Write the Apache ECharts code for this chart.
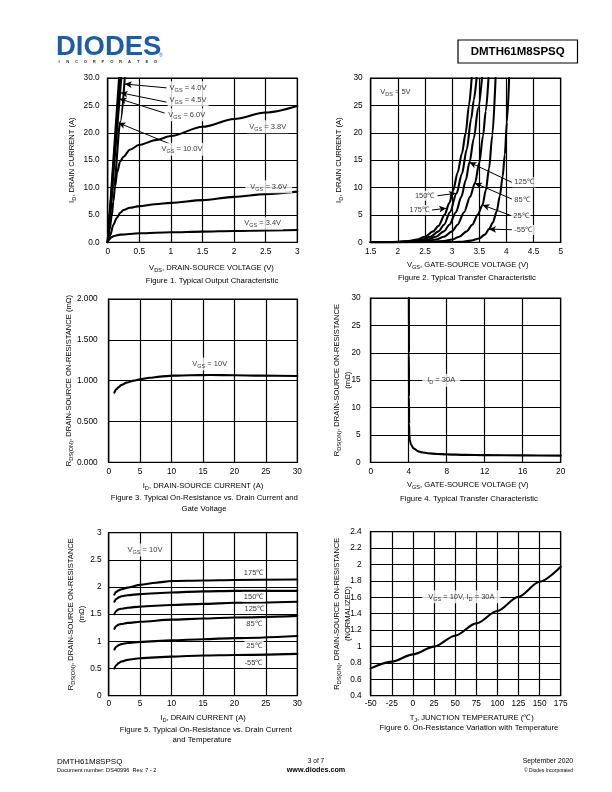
<!DOCTYPE html>
<html><head><meta charset="utf-8">
<script src="https://cdn.jsdelivr.net/npm/echarts@6.0.0/dist/echarts.min.js"></script>
<style>html,body{margin:0;padding:0;background:#fff}#c{width:612px;height:792px}</style>
</head><body><div id="c"></div>
<script>
// ===== Figure 1: Typical Output Characteristic (ID vs VDS) =====
const fig1Vgs34 = [[0,0],[0.03,0.6],[0.06,0.95],[0.1,1.15],[0.2,1.4],[0.5,1.64],[1,1.83],[1.5,1.95],[2,2.07],[2.5,2.17],[3,2.25]];
const fig1Vgs36 = [[0,0],[0.04,1.3],[0.09,3.2],[0.14,4.4],[0.2,5.4],[0.25,5.9],[0.35,6.3],[0.5,6.6],[0.75,6.95],[1,7.2],[1.5,7.7],[2,8.3],[2.5,8.8],[3,9.25]];
const fig1Vgs38 = [[0,0],[0.03,2.3],[0.063,4.7],[0.09,7.5],[0.116,10.2],[0.15,12.8],[0.195,14.7],[0.25,15.6],[0.35,16.9],[0.5,17.8],[0.775,18.7],[1,19.4],[1.5,21.1],[2,22.5],[2.5,23.7],[3,24.9]];
const fig1Vgs40 = [[0,0],[0.1,10.5],[0.2,22],[0.27,30]];
const fig1Vgs45 = [[0,0],[0.215,30]];
const fig1Vgs60 = [[0,0],[0.195,30]];
const fig1Vgs100 = [[0,0],[0.18,30]];
const fig1Notes = [
  {t:'{n|V}{s|GS}{n| = 4.0V}', at:[0.94,28.2], from:[0.93,28.2], to:[0.27,28.9]},
  {t:'{n|V}{s|GS}{n| = 4.5V}', at:[0.94,26.0], from:[0.93,25.6], to:[0.205,27.3]},
  {t:'{n|V}{s|GS}{n| = 6.0V}', at:[0.92,23.3], from:[0.9,23.6], to:[0.185,26.2]},
  {t:'{n|V}{s|GS}{n| = 10.0V}', at:[0.81,17.0], from:[1.02,17.8], to:[0.17,21.8]},
  {t:'{n|V}{s|GS}{n| = 3.8V}', at:[2.2,21.1]},
  {t:'{n|V}{s|GS}{n| = 3.6V}', at:[2.17,10.15], pad:[1,5]},
  {t:'{n|V}{s|GS}{n| = 3.4V}', at:[2.12,3.47]}
];

// ===== Figure 2: Typical Transfer Characteristic (ID vs VGS) =====
const fig2T175 = [[1.5,0],[1.8,0.03],[2.0,0.1],[2.2,0.25],[2.35,0.5],[2.5,1.0],[2.65,2.0],[2.75,3.0],[2.86,5.0],[2.95,7.2],[3.02,9.5],[3.1,12.7],[3.18,16.2],[3.25,20],[3.31,25],[3.36,30]];
const fig2T150 = [[1.5,0],[1.9,0.03],[2.1,0.1],[2.3,0.25],[2.45,0.5],[2.6,1.0],[2.75,2.0],[2.85,3.2],[2.96,5.5],[3.08,8.9],[3.18,12.5],[3.27,17],[3.35,22.5],[3.4,26],[3.45,30]];
const fig2T125 = [[1.5,0],[2.0,0.03],[2.2,0.1],[2.4,0.25],[2.55,0.5],[2.7,1.0],[2.85,2.0],[2.95,3.2],[3.07,5.5],[3.17,8.3],[3.25,11.3],[3.32,14.6],[3.4,19],[3.48,24.5],[3.55,30]];
const fig2T85 = [[1.5,0],[2.1,0.03],[2.35,0.1],[2.55,0.25],[2.7,0.5],[2.85,1.0],[3.0,2.0],[3.1,3.2],[3.22,5.5],[3.33,8.3],[3.42,10.8],[3.5,14.5],[3.57,19.5],[3.62,24],[3.67,30]];
const fig2T25 = [[1.5,0],[2.4,0.03],[2.65,0.1],[2.85,0.25],[3.0,0.5],[3.13,1.0],[3.27,2.0],[3.37,3.2],[3.47,5.0],[3.56,6.8],[3.62,9.5],[3.68,13.5],[3.74,19.5],[3.8,30]];
const fig2Tm55 = [[1.5,0],[2.9,0.03],[3.15,0.1],[3.35,0.3],[3.5,0.7],[3.6,1.4],[3.68,2.4],[3.75,3.6],[3.82,5.6],[3.88,8.5],[3.93,12],[3.97,16],[4.01,22],[4.05,30]];
const fig2Notes = [
  {t:'{n|V}{s|DS}{n| = 5V}', at:[1.63,27.5], bg:'none'},
  {t:'{n|125℃}', at:[4.1,10.95], from:[4.1,10.95], to:[3.32,14.6]},
  {t:'{n|85℃}', at:[4.1,7.7], from:[4.1,7.9], to:[3.42,10.8]},
  {t:'{n|25℃}', at:[4.08,4.86], from:[4.08,4.9], to:[3.56,6.8]},
  {t:'{n|-55℃}', at:[4.1,2.25], from:[4.1,2.3], to:[3.68,2.4]},
  {t:'{n|150℃}', at:[2.72,8.5], side:'left', from:[2.73,8.5], to:[3.07,8.95]},
  {t:'{n|175℃}', at:[2.62,5.9], side:'left', from:[2.63,5.9], to:[2.89,6.2]}
];

// ===== Figure 3: On-Resistance vs Drain Current =====
const fig3Rds = [[0.9,0.853],[1.2,0.895],[1.54,0.918],[2,0.945],[2.86,0.976],[4,1.0],[4.98,1.016],[6.5,1.035],[8.16,1.049],[10.3,1.061],[13,1.066],[16.1,1.069],[20,1.066],[24.1,1.061],[30,1.057]];
const fig3Notes = [{t:'{n|V}{s|GS}{n| = 10V}', at:[12.9,1.204]}];

// ===== Figure 4: On-Resistance vs Gate-Source Voltage =====
const fig4Rds = [[4.02,30],[4.025,20],[4.03,12],[4.04,7],[4.07,5],[4.12,4.0],[4.25,3.2],[4.5,2.55],[5,2.0],[5.5,1.8],[6,1.65],[7,1.52],[8,1.45],[10,1.36],[12,1.31],[16,1.26],[20,1.22]];
const fig4Notes = [{t:'{n|I}{s|D}{n| = 30A}', at:[5.37,15], pad:[1,5]}];

// ===== Figure 5: On-Resistance vs Drain Current and Temperature =====
const fig5T175 = [[0.9,1.86],[1.2,1.91],[1.6,1.94],[2,1.96],[3,1.99],[5,2.04],[7.5,2.08],[10,2.11],[15,2.12],[20,2.13],[30,2.14]];
const fig5T150 = [[0.9,1.73],[1.2,1.78],[1.6,1.81],[2,1.83],[3,1.85],[5,1.87],[10,1.9],[15,1.92],[20,1.93],[30,1.93]];
const fig5T125 = [[0.9,1.5],[1.2,1.56],[1.6,1.59],[2,1.6],[3,1.62],[5,1.64],[10,1.67],[15,1.69],[20,1.71],[30,1.73]];
const fig5T85 = [[0.9,1.23],[1.2,1.28],[1.6,1.31],[2,1.32],[3,1.34],[5,1.36],[10,1.4],[15,1.42],[20,1.44],[30,1.47]];
const fig5T25 = [[0.9,0.85],[1.2,0.9],[1.6,0.93],[2,0.95],[3,0.97],[5,0.99],[10,1.02],[15,1.04],[20,1.06],[30,1.1]];
const fig5Tm55 = [[0.9,0.5],[1.2,0.56],[1.6,0.6],[2,0.63],[3,0.66],[5,0.69],[10,0.72],[15,0.74],[20,0.75],[30,0.77]];
const fig5Notes = [
  {t:'{n|V}{s|GS}{n| = 10V}', at:[2.6,2.68]},
  {t:'{n|175℃}', at:[21.1,2.26]},
  {t:'{n|150℃}', at:[21.1,1.82]},
  {t:'{n|125℃}', at:[21.2,1.6]},
  {t:'{n|85℃}', at:[21.5,1.32]},
  {t:'{n|25℃}', at:[21.5,0.92]},
  {t:'{n|-55℃}', at:[21.2,0.6]}
];

// ===== Figure 6: On-Resistance vs Temperature =====
const fig6Tj = [-50,-25,0,25,50,75,100,125,150,175];
const fig6Rn = [0.733,0.815,0.904,0.998,1.132,1.282,1.433,1.607,1.79,1.973];
const fig6Notes = [{t:'{n|V}{s|GS}{n| = 10V, I}{s|D}{n| = 30A}', at:[10.4,1.607], pad:[1,6]}];

// ===== styling / layout =====
const FONT = '"Liberation Sans", Arial, Helvetica, sans-serif';
const RICH = {
  n:{fontFamily:FONT, fontSize:7.5, color:'#000'},
  s:{fontFamily:FONT, fontSize:5.5, color:'#000', padding:[5,0,0,0]}
};
const NRICH = {
  n:{fontFamily:FONT, fontSize:7.6, color:'#000', lineHeight:10},
  s:{fontFamily:FONT, fontSize:5.6, color:'#000', padding:[5,0,0,0]}
};
const grids = [
  {left:107.7, top:78, width:189.6, height:164.3},
  {left:370.7, top:78, width:190, height:164.3},
  {left:108.7, top:299, width:188.6, height:163.3},
  {left:370.7, top:298, width:190, height:164.3},
  {left:108.7, top:532.7, width:188.6, height:163},
  {left:370.7, top:531.7, width:190, height:164}
].map(g => Object.assign({show:true, borderColor:'#000', borderWidth:1.2, backgroundColor:'rgba(0,0,0,0)', containLabel:false, outerBoundsMode:'none'}, g));

function axis(gi, min, max, interval, fmt, name, gap, margin, pad) {
  return {
    gridIndex:gi, type:'value', min, max, interval,
    axisLine:{show:true, onZero:false, lineStyle:{color:'#000', width:1.2}},
    axisTick:{show:false},
    splitLine:{show:true, lineStyle:{color:'#000', width:1.2}},
    axisLabel:{color:'#000', fontSize:8.3, fontFamily:FONT, margin, showMinLabel:true, showMaxLabel:true, hideOverlap:false, formatter:fmt},
    name, nameLocation:'middle', nameGap:gap, nameMoveOverlap:false,
    nameTextStyle:{rich:NRICH, align:'center', padding:pad||0}
  };
}
const f1 = v => v.toFixed(1), f3 = v => v.toFixed(3), fg = v => String(+v.toFixed(2));
const xAxes = [
  axis(0, 0, 3, 0.5, fg, '{n|V}{s|DS}{n|, DRAIN-SOURCE VOLTAGE (V)}', 20, 5, [0,0,0,18]),
  axis(1, 1.5, 5, 0.5, fg, '{n|V}{s|GS}{n|, GATE-SOURCE VOLTAGE (V)}', 17, 5, [0,0,0,4]),
  axis(2, 0, 30, 5, fg, '{n|I}{s|D}{n|, DRAIN-SOURCE CURRENT (A)}', 18, 5),
  axis(3, 0, 20, 4, fg, '{n|V}{s|GS}{n|, GATE-SOURCE VOLTAGE (V)}', 17, 5, [0,0,0,4]),
  axis(4, 0, 30, 5, fg, '{n|I}{s|D}{n|, DRAIN CURRENT (A)}', 17, 4),
  axis(5, -50, 175, 25, fg, '{n|T}{s|J}{n|, JUNCTION TEMPERATURE (℃)}', 17, 4, [0,0,0,12])
];
const yAxes = [
  axis(0, 0, 30, 5, f1, '{n|I}{s|D}{n|, DRAIN CURRENT (A)}', 30, 8),
  axis(1, 0, 30, 5, fg, '{n|I}{s|D}{n|, DRAIN CURRENT (A)}', 26, 8),
  axis(2, 0, 2, 0.5, f3, '{n|R}{s|DS(ON)}{n|, DRAIN-SOURCE ON-RESISTANCE (mΩ)}', 34, 11),
  axis(3, 0, 30, 5, fg, '{n|R}{s|DS(ON)}{n|, DRAIN-SOURCE ON-RESISTANCE}\n{n|(mΩ)}', 18, 10),
  axis(4, 0, 3, 0.5, fg, '{n|R}{s|DS(ON)}{n|, DRAIN-SOURCE ON-RESISTANCE}\n{n|(mΩ)}', 22, 7),
  axis(5, 0.4, 2.4, 0.2, fg, '{n|R}{s|DS(ON)}{n|, DRAIN-SOURCE ON-RESISTANCE}\n{n|(NORMALIZED)}', 18, 9)
];

function curve(data, gi) {
  return {type:'line', data, xAxisIndex:gi, yAxisIndex:gi, symbol:'none', showSymbol:false,
    smooth:0.3, smoothMonotone:'x', clip:true, silent:true, z:3,
    lineStyle:{color:'#000', width:2.1, cap:'round', join:'round'}};
}
function notes(list, gi) {
  return {
    type:'scatter', xAxisIndex:gi, yAxisIndex:gi, symbolSize:1, silent:true, z:10,
    itemStyle:{color:'rgba(0,0,0,0)'},
    data:list.map(n => ({value:n.at, label:{show:true, position:n.side||'right', distance:0,
      formatter:n.t, rich:RICH, fontFamily:FONT, fontSize:7.5, color:'#000',
      backgroundColor:n.bg==='none'?'transparent':'#fff', padding:n.pad||[1,2]}})),
    markLine:{silent:true, symbol:['none','arrow'], symbolSize:[5,7], animation:false,
      label:{show:false}, emphasis:{disabled:true},
      lineStyle:{color:'#000', width:1, type:'solid'},
      data:list.filter(n => n.to).map(n => [{coord:n.from}, {coord:n.to}])}
  };
}

const series = [
  curve(fig1Vgs34,0), curve(fig1Vgs36,0), curve(fig1Vgs38,0), curve(fig1Vgs40,0),
  curve(fig1Vgs45,0), curve(fig1Vgs60,0), curve(fig1Vgs100,0), notes(fig1Notes,0),
  curve(fig2T175,1), curve(fig2T150,1), curve(fig2T125,1), curve(fig2T85,1), curve(fig2T25,1), curve(fig2Tm55,1), notes(fig2Notes,1),
  curve(fig3Rds,2), notes(fig3Notes,2),
  curve(fig4Rds,3), notes(fig4Notes,3),
  curve(fig5T175,4), curve(fig5T150,4), curve(fig5T125,4), curve(fig5T85,4), curve(fig5T25,4), curve(fig5Tm55,4), notes(fig5Notes,4),
  curve(fig6Tj.map((t,i) => [t, fig6Rn[i]]),5), notes(fig6Notes,5)
];

// ===== page texts =====
function txt(text, x, y, size, align, weight, color) {
  return {type:'text', x, y, silent:true, style:{text, fill:color||'#000',
    font:(weight||'normal')+' '+size+'px '+FONT, textAlign:align||'center', textVerticalAlign:'middle'}};
}
const graphics = [
  txt('DIODES', 56, 47, 27.5, 'left', 'bold', '#1d5ca8'),
  txt('®', 159, 56, 5, 'left', 'normal', '#1d5ca8'),
  {type:'rect', shape:{x:458, y:40, width:119.5, height:23}, silent:true, style:{fill:'none', stroke:'#000', lineWidth:1.2}},
  txt('DMTH61M8SPSQ', 517.7, 51.5, 11.5, 'center', 'bold'),
  txt('Figure 1. Typical Output Characteristic', 212, 280.5, 7.8),
  txt('Figure 2. Typical Transfer Characteristic', 467, 277.5, 7.8),
  txt('Figure 3. Typical On-Resistance vs. Drain Current and', 204.3, 498.3, 7.8),
  txt('Gate Voltage', 204, 508.5, 7.8),
  txt('Figure 4. Typical Transfer Characteristic', 469, 499, 7.8),
  txt('Figure 5. Typical On-Resistance vs. Drain Current', 205.8, 730, 7.8),
  txt('and Temperature', 202, 739.5, 7.8),
  txt('Figure 6. On-Resistance Variation with Temperature', 469, 728.3, 7.8),
  txt('DMTH61M8SPSQ', 57, 761.5, 8, 'left'),
  txt('Document number: DS40996  Rev. 7 - 2', 57, 770.5, 5.6, 'left'),
  txt('3 of 7', 316, 761.5, 6.5),
  txt('www.diodes.com', 316, 770.5, 7.2, 'center', 'bold'),
  txt('September 2020', 573, 761.5, 6.8, 'right'),
  txt('© Diodes Incorporated', 573, 770.5, 4.9, 'right')
];
'INCORPORATED'.split('').forEach((ch, i) => graphics.push(txt(ch, 59 + i * 8.8, 62, 4.2, 'center', 'bold', '#333')));

const chart = echarts.init(document.getElementById('c'), null, {renderer:'canvas', width:612, height:792});
chart.setOption({
  animation:false, backgroundColor:'#fff',
  grid:grids, xAxis:xAxes, yAxis:yAxes, series, graphic:graphics
});
</script></body></html>
